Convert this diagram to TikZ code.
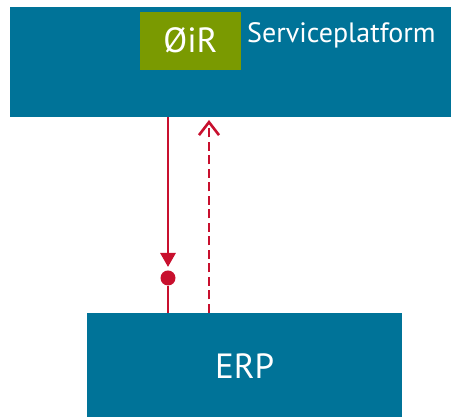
\documentclass[tikz,border=0pt]{standalone}
\usepackage{fontspec}
\setmainfont{PT Sans}
\usetikzlibrary{arrows.meta}
\definecolor{boxblue}{HTML}{007398}
\definecolor{logogreen}{HTML}{7A9A01}
\definecolor{linkred}{HTML}{C8102E}
\tikzset{
  block/.style={fill=boxblue, draw=none, inner sep=0pt, anchor=south west},
  logo/.style={fill=logogreen, draw=none, inner sep=0pt, anchor=south west, text=white},
  wtext/.style={text=white, inner sep=0pt},
  link/.style={draw=linkred, line width=2.8pt},
}
\begin{document}
\begin{tikzpicture}[x=1pt,y=1pt]
\useasboundingbox (0,0) rectangle (451,417);
\node[block, minimum width=441pt, minimum height=110pt] (top) at (10,300) {};
\node[logo, minimum width=101pt, minimum height=58pt] (logo) at (140,347) {};
\node[wtext, anchor=base] (logotext) at (190.5,364) {\fontsize{35}{35}\selectfont ØiR};
\node[wtext, anchor=base west] (sp) at (247,374) {\fontsize{28}{28}\selectfont Serviceplatform};
\node[block, minimum width=315pt, minimum height=104pt] (erp) at (87,0) {};
\node[wtext, anchor=base] (erplabel) at (erp.center |- 0,38) {\fontsize{35}{35}\selectfont ERP};
% solid connector
\coordinate (s1) at (168,300);
\coordinate (tip) at (168,150);
\coordinate (e1) at (168,104);
\node[circle, fill=linkred, inner sep=0pt, minimum size=15pt] (dot) at (168,139) {};
\draw[link, -{Triangle[width=15pt,length=14pt]}] (s1) -- (tip);
\draw[link] (dot) -- (e1);
% dashed connector
\coordinate (e2) at (209,104);
\coordinate (t2) at (209,297);
\draw[link, dash pattern=on 9pt off 4.5pt, -{Straight Barb[width=20pt,length=13pt,line width=2.6pt]}] (e2) -- (t2);
\end{tikzpicture}
\end{document}
